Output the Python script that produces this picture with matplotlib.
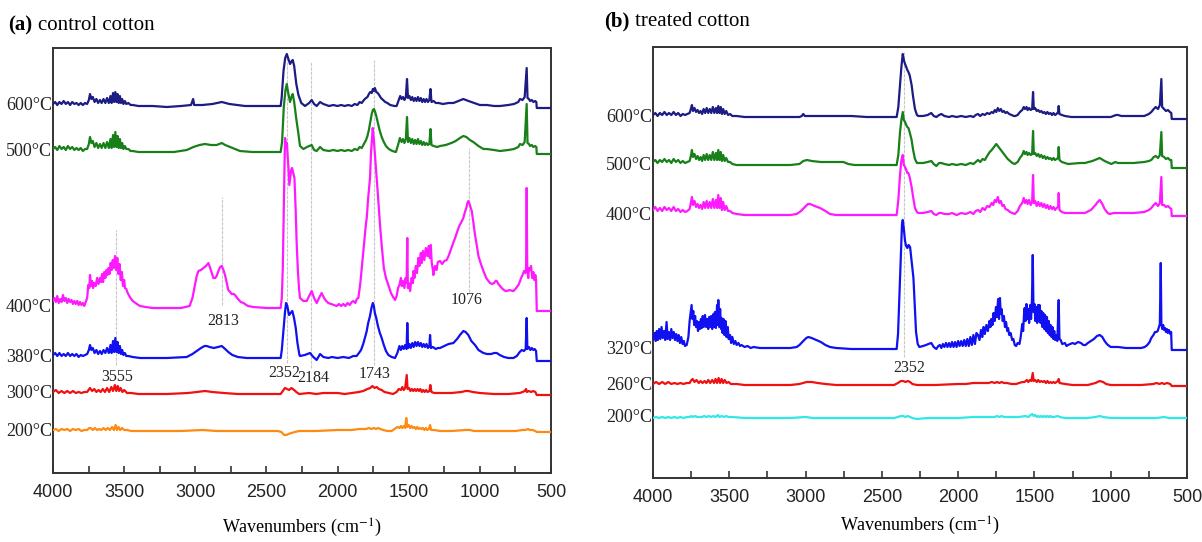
import numpy as np
import matplotlib
matplotlib.use("Agg")
import matplotlib.pyplot as plt
import matplotlib.transforms as mtransforms

plt.rcParams['mathtext.fontset'] = 'stix'
SERIF = ['Liberation Serif', 'DejaVu Serif']
SANS = ['Liberation Sans', 'DejaVu Sans']

# ---- spectra, (wavenumber cm-1, absorbance above own baseline, a.u.) ----
# (a) control cotton
a_600 = [(4000,2),(3985,4),(3970,1),(3955,4),(3940,2),(3925,5),(3910,2),(3895,4),(3880,1),(3865,4),(3850,2),(3835,3),(3820,1),(3805,3),(3790,1),(3775,3),(3760,2),(3748,6),(3740,12),(3730,7),(3720,9),(3708,4),(3695,7),(3683,3),(3670,6),(3658,3),(3645,7),(3632,3),(3620,8),(3608,3),(3596,10),(3588,3),(3578,13),(3570,4),(3562,14),(3554,4),(3546,12),(3538,3),(3530,10),(3522,3),(3514,7),(3505,2),(3495,5),(3485,2),(3470,3),(3455,1),(3440,1),(3400,0),(3300,0),(3200,-1),(3100,0),(3030,1),(3015,7),(3008,1),(2950,1),(2880,2),(2814,4),(2760,2),(2650,0),(2500,0),(2400,0),(2393,8),(2380,35),(2368,48),(2357,52),(2348,48),(2334,42),(2322,45),(2315,46),(2305,40),(2290,22),(2275,11),(2255,3),(2229,0),(2200,3),(2182,6),(2165,2),(2147,0),(2123,4),(2100,2),(2060,0),(2030,1),(2000,0),(1975,1),(1950,0),(1925,1),(1900,0),(1880,2),(1860,1),(1845,4),(1830,3),(1815,6),(1800,8),(1790,9),(1780,12),(1770,14),(1760,13),(1752,17),(1745,15),(1738,18),(1728,14),(1718,13),(1708,11),(1695,8),(1680,6),(1665,4),(1650,3),(1630,1),(1600,0),(1585,0),(1570,6),(1560,10),(1550,7),(1540,9),(1530,6),(1520,9),(1512,27),(1505,8),(1495,10),(1485,6),(1475,9),(1465,5),(1455,8),(1445,5),(1435,9),(1425,5),(1415,8),(1405,4),(1395,7),(1385,4),(1375,7),(1365,4),(1355,6),(1347,17),(1340,4),(1325,5),(1310,3),(1290,3),(1260,2),(1220,3),(1186,3),(1150,5),(1116,7),(1080,5),(1040,3),(1000,1),(950,1),(900,0),(858,0),(800,1),(760,2),(730,4),(718,7),(700,6),(685,9),(671,38),(665,8),(655,7),(647,5),(635,6),(624,4),(612,5),(603,4),(600,-2),(500,-2)]
a_500 = [(4000,3),(3985,5),(3970,2),(3955,6),(3940,3),(3925,5),(3910,2),(3895,6),(3880,3),(3865,5),(3850,2),(3835,4),(3820,2),(3805,4),(3790,1),(3775,3),(3760,3),(3748,8),(3740,15),(3730,9),(3720,11),(3708,5),(3695,9),(3683,4),(3670,8),(3658,4),(3645,9),(3632,4),(3620,10),(3608,4),(3596,13),(3588,4),(3578,17),(3570,5),(3562,20),(3554,5),(3546,16),(3538,4),(3530,13),(3522,4),(3514,9),(3505,3),(3495,6),(3485,3),(3470,3),(3455,1),(3440,1),(3400,0),(3300,0),(3150,0),(3060,2),(3013,5),(2970,7),(2932,8),(2890,7),(2850,7),(2814,9),(2790,7),(2756,5),(2720,3),(2686,1),(2600,0),(2400,0),(2390,10),(2378,45),(2366,62),(2357,68),(2348,60),(2334,50),(2322,56),(2315,58),(2305,50),(2290,33),(2275,18),(2264,6),(2240,3),(2215,5),(2182,7),(2165,2),(2147,1),(2123,5),(2100,2),(2060,1),(2030,2),(2000,1),(1975,2),(1950,1),(1925,2),(1900,1),(1880,3),(1860,2),(1845,5),(1830,4),(1815,8),(1800,12),(1790,16),(1780,22),(1770,30),(1760,38),(1752,42),(1744,43),(1736,40),(1728,36),(1718,30),(1705,22),(1690,15),(1675,10),(1660,6),(1640,3),(1615,1),(1590,0),(1575,7),(1562,14),(1550,10),(1540,13),(1530,9),(1520,13),(1512,35),(1505,10),(1495,14),(1485,9),(1475,13),(1465,8),(1455,12),(1445,8),(1435,13),(1425,8),(1415,11),(1405,7),(1395,10),(1385,7),(1375,9),(1365,7),(1355,8),(1347,23),(1340,7),(1325,6),(1300,5),(1280,6),(1240,7),(1200,9),(1170,11),(1140,14),(1116,16),(1095,15),(1070,12),(1046,10),(1010,6),(975,3),(952,3),(900,2),(858,1),(800,2),(760,3),(730,5),(718,8),(700,7),(685,10),(671,48),(665,9),(655,8),(647,6),(635,7),(624,5),(612,6),(603,5),(600,-2),(500,-2)]
a_400 = [(4000,7),(3990,10),(3980,6),(3970,12),(3960,5),(3950,9),(3940,6),(3930,13),(3920,7),(3910,10),(3900,5),(3890,9),(3880,6),(3870,8),(3860,4),(3850,7),(3840,4),(3830,7),(3820,3),(3810,6),(3800,3),(3790,5),(3780,2),(3770,6),(3760,10),(3752,23),(3745,20),(3740,33),(3732,22),(3725,27),(3718,20),(3710,25),(3700,22),(3690,30),(3680,24),(3670,30),(3662,26),(3655,34),(3648,26),(3640,36),(3632,30),(3625,38),(3618,33),(3610,40),(3602,34),(3595,45),(3588,38),(3580,48),(3572,40),(3564,52),(3556,38),(3548,50),(3540,34),(3532,44),(3524,28),(3516,36),(3508,22),(3500,28),(3494,20),(3485,19),(3475,15),(3460,11),(3440,7),(3420,5),(3400,3),(3388,2),(3350,1),(3300,0),(3200,0),(3100,0),(3040,2),(3020,10),(3002,23),(2990,32),(2978,37),(2960,38),(2943,40),(2925,42),(2908,45),(2895,40),(2880,33),(2873,30),(2860,30),(2850,32),(2835,38),(2825,41),(2814,42),(2802,38),(2791,33),(2780,26),(2768,18),(2755,16),(2745,14),(2730,14),(2721,13),(2700,9),(2680,6),(2662,5),(2630,2),(2592,1),(2500,0),(2400,0),(2392,10),(2385,40),(2378,100),(2372,150),(2369,170),(2362,162),(2356,165),(2350,150),(2345,140),(2339,123),(2333,130),(2326,138),(2320,140),(2313,136),(2303,130),(2295,100),(2287,63),(2278,35),(2270,18),(2264,10),(2240,7),(2217,7),(2200,12),(2182,17),(2165,10),(2147,5),(2130,10),(2112,15),(2095,10),(2080,7),(2065,5),(2045,4),(2025,3),(2006,2),(1990,4),(1975,2),(1960,4),(1945,2),(1930,5),(1915,3),(1900,6),(1889,7),(1875,5),(1865,9),(1854,10),(1840,25),(1830,40),(1819,57),(1810,70),(1800,85),(1795,90),(1785,110),(1772,130),(1765,155),(1758,170),(1753,180),(1745,168),(1737,153),(1728,135),(1720,120),(1710,100),(1700,80),(1690,63),(1675,40),(1660,30),(1643,23),(1625,15),(1610,11),(1596,8),(1585,12),(1575,20),(1565,23),(1555,30),(1548,22),(1540,27),(1530,20),(1522,30),(1515,25),(1510,70),(1506,20),(1500,25),(1490,17),(1480,30),(1470,25),(1467,37),(1460,30),(1450,42),(1442,35),(1432,50),(1425,42),(1415,55),(1408,45),(1400,57),(1390,48),(1380,60),(1370,52),(1360,62),(1352,50),(1345,63),(1338,45),(1330,38),(1327,33),(1315,42),(1305,38),(1295,46),(1280,47),(1265,44),(1250,47),(1233,48),(1220,52),(1205,58),(1190,64),(1174,70),(1160,76),(1145,82),(1130,86),(1116,90),(1105,96),(1095,100),(1088,105),(1081,107),(1072,104),(1064,100),(1057,97),(1045,85),(1035,74),(1022,63),(1010,52),(995,45),(975,37),(955,30),(940,27),(928,25),(915,24),(900,25),(890,27),(881,27),(870,24),(858,22),(840,19),(820,17),(811,17),(790,18),(770,17),(764,17),(750,19),(740,21),(729,23),(720,26),(710,30),(700,33),(690,37),(680,35),(675,40),(671,120),(667,40),(660,30),(655,40),(647,38),(640,42),(632,30),(624,36),(617,28),(610,33),(605,28),(600,-3),(500,-3)]
a_380 = [(4000,3),(3985,5),(3970,2),(3955,5),(3940,2),(3925,4),(3910,2),(3895,5),(3880,2),(3865,4),(3850,2),(3835,4),(3820,1),(3805,3),(3790,2),(3775,3),(3760,4),(3748,8),(3740,13),(3730,8),(3720,10),(3708,5),(3695,8),(3683,4),(3670,7),(3658,4),(3645,8),(3632,5),(3620,10),(3608,5),(3596,13),(3588,5),(3578,17),(3570,6),(3562,20),(3554,6),(3546,16),(3538,5),(3530,12),(3522,4),(3514,8),(3505,3),(3495,5),(3485,2),(3470,2),(3440,1),(3388,0),(3200,0),(3060,1),(3020,4),(2990,7),(2960,10),(2935,12),(2920,12),(2900,11),(2870,10),(2840,11),(2814,12),(2790,9),(2768,6),(2740,3),(2700,1),(2640,0),(2400,0),(2392,8),(2382,25),(2370,45),(2362,55),(2353,52),(2345,46),(2341,43),(2330,45),(2318,47),(2306,40),(2294,30),(2282,15),(2268,3),(2264,2),(2230,3),(2194,5),(2170,1),(2147,-2),(2123,4),(2100,1),(2065,0),(2040,1),(2000,0),(1960,1),(1920,0),(1890,2),(1866,2),(1850,5),(1835,8),(1820,14),(1808,20),(1795,27),(1785,35),(1772,42),(1762,50),(1752,55),(1745,52),(1738,45),(1728,40),(1718,33),(1705,26),(1690,20),(1675,13),(1660,7),(1643,3),(1620,1),(1596,0),(1580,5),(1565,12),(1555,8),(1545,12),(1535,9),(1525,13),(1515,9),(1510,35),(1504,10),(1495,14),(1485,10),(1475,15),(1465,11),(1455,16),(1445,12),(1435,16),(1425,12),(1415,15),(1405,11),(1395,14),(1385,11),(1375,14),(1365,10),(1355,12),(1350,23),(1344,10),(1330,11),(1310,9),(1295,10),(1280,10),(1250,12),(1220,14),(1186,15),(1160,19),(1140,23),(1116,27),(1100,26),(1081,23),(1060,17),(1034,13),(1010,8),(975,5),(950,4),(920,4),(900,5),(881,5),(860,3),(830,1),(800,0),(764,0),(740,2),(720,6),(705,8),(690,7),(678,9),(671,40),(666,9),(655,11),(645,8),(635,10),(624,8),(615,9),(605,7),(600,-3),(500,-3)]
a_300 = [(4000,2),(3980,4),(3960,1),(3940,3),(3920,1),(3900,3),(3880,1),(3860,3),(3840,1),(3820,2),(3800,1),(3780,2),(3760,2),(3745,5),(3740,6),(3725,3),(3710,5),(3695,2),(3680,4),(3665,2),(3650,5),(3635,2),(3620,6),(3605,2),(3590,7),(3578,3),(3565,9),(3555,3),(3545,8),(3535,3),(3525,6),(3512,2),(3500,4),(3480,1),(3450,1),(3400,0),(3200,0),(3050,1),(2990,2),(2932,3),(2880,2),(2800,1),(2700,0),(2400,0),(2385,3),(2370,6),(2355,5),(2340,4),(2325,6),(2305,4),(2290,2),(2270,0),(2200,1),(2150,0),(2100,1),(2000,1),(1950,0),(1900,1),(1850,2),(1820,3),(1790,5),(1770,6),(1755,8),(1740,6),(1725,7),(1710,5),(1690,4),(1670,2),(1640,1),(1610,0),(1585,2),(1570,5),(1555,4),(1545,7),(1535,4),(1525,6),(1514,19),(1508,5),(1498,6),(1488,3),(1478,5),(1468,3),(1458,5),(1448,3),(1438,5),(1428,3),(1418,5),(1408,2),(1398,4),(1388,2),(1378,4),(1368,2),(1355,3),(1348,9),(1340,2),(1320,1),(1280,1),(1200,1),(1130,2),(1100,3),(1080,3),(1050,2),(1000,1),(900,0),(800,0),(720,1),(700,2),(685,3),(675,5),(670,2),(655,3),(640,2),(625,3),(610,2),(600,-1),(500,-1)]
a_200 = [(4000,1),(3980,2),(3960,0),(3940,2),(3920,1),(3900,2),(3880,0),(3860,2),(3840,1),(3820,2),(3800,0),(3780,1),(3760,1),(3745,3),(3735,3),(3720,1),(3705,3),(3690,1),(3675,2),(3660,1),(3645,3),(3630,1),(3615,3),(3600,1),(3585,4),(3572,1),(3560,6),(3550,1),(3540,4),(3528,1),(3515,3),(3500,1),(3480,1),(3450,0),(3300,0),(3100,0),(2950,1),(2850,0),(2600,0),(2420,0),(2395,-1),(2375,-4),(2360,-4),(2345,-3),(2325,-2),(2300,-1),(2270,0),(2150,0),(2000,1),(1900,1),(1850,2),(1800,2),(1780,3),(1760,2),(1745,3),(1730,2),(1715,3),(1700,2),(1680,1),(1650,0),(1620,0),(1600,2),(1580,4),(1565,3),(1555,5),(1545,3),(1535,5),(1525,3),(1517,13),(1510,4),(1500,6),(1490,3),(1480,5),(1470,3),(1460,4),(1450,2),(1440,4),(1430,2),(1420,3),(1410,2),(1400,3),(1390,1),(1380,3),(1370,1),(1358,2),(1350,6),(1342,1),(1320,1),(1280,0),(1200,0),(1100,1),(1070,1),(1040,0),(900,0),(750,0),(700,1),(680,1),(660,2),(650,1),(630,1),(610,0),(600,-1),(500,-1)]

# (b) treated cotton
b_600 = [(4000,2),(3985,4),(3970,1),(3955,4),(3940,2),(3925,5),(3910,2),(3895,4),(3880,2),(3865,5),(3850,2),(3835,4),(3820,1),(3805,3),(3790,2),(3775,3),(3760,4),(3752,8),(3745,12),(3738,6),(3728,9),(3718,5),(3708,7),(3698,4),(3688,6),(3678,3),(3668,8),(3658,4),(3648,9),(3638,4),(3628,8),(3618,4),(3608,10),(3598,4),(3588,9),(3580,4),(3572,11),(3564,4),(3556,10),(3548,3),(3540,8),(3530,3),(3520,6),(3508,2),(3495,3),(3480,1),(3452,1),(3400,0),(3200,0),(3040,0),(3025,1),(3015,3),(3005,1),(2900,1),(2800,1),(2700,1),(2600,0),(2403,0),(2392,10),(2381,32),(2372,50),(2363,63),(2356,57),(2348,53),(2340,50),(2333,47),(2326,45),(2318,42),(2305,32),(2295,20),(2283,8),(2270,2),(2261,1),(2230,1),(2200,2),(2176,4),(2160,1),(2143,0),(2125,2),(2110,3),(2090,1),(2060,0),(2040,1),(2010,0),(1980,1),(1950,0),(1920,1),(1900,0),(1885,2),(1870,3),(1855,1),(1840,3),(1825,2),(1810,4),(1795,3),(1780,5),(1770,4),(1760,7),(1750,5),(1740,9),(1730,6),(1720,8),(1710,5),(1700,6),(1690,4),(1680,5),(1665,3),(1650,2),(1635,1),(1625,1),(1610,2),(1595,5),(1580,7),(1570,10),(1562,8),(1552,10),(1545,7),(1535,9),(1525,7),(1515,8),(1509,25),(1504,8),(1495,9),(1485,6),(1475,7),(1465,5),(1455,6),(1445,4),(1435,5),(1425,3),(1415,5),(1405,3),(1395,4),(1385,2),(1375,4),(1365,2),(1355,3),(1345,5),(1341,11),(1336,3),(1320,2),(1300,1),(1258,0),(1100,0),(1000,0),(965,2),(952,2),(930,1),(850,1),(780,1),(750,3),(734,5),(718,8),(705,10),(690,8),(678,12),(668,38),(663,10),(650,8),(638,6),(625,7),(612,5),(603,4),(600,-2),(500,-2)]
b_500 = [(4000,3),(3985,5),(3970,2),(3955,5),(3940,3),(3925,6),(3910,3),(3895,5),(3880,2),(3865,6),(3850,3),(3835,5),(3820,2),(3805,4),(3790,2),(3775,3),(3760,4),(3752,9),(3745,15),(3738,8),(3728,11),(3718,6),(3708,9),(3698,5),(3688,8),(3678,4),(3668,10),(3658,5),(3648,11),(3638,5),(3628,10),(3618,5),(3608,13),(3598,5),(3588,12),(3580,5),(3572,15),(3564,5),(3556,13),(3548,4),(3540,10),(3530,4),(3520,7),(3508,3),(3495,3),(3480,1),(3452,0),(3300,0),(3100,0),(3040,1),(3015,4),(2990,5),(2960,4),(2900,3),(2840,3),(2790,3),(2752,3),(2720,1),(2680,0),(2403,0),(2392,10),(2381,33),(2372,45),(2363,53),(2356,45),(2348,43),(2340,40),(2333,38),(2326,37),(2318,33),(2305,25),(2295,15),(2283,6),(2270,2),(2261,2),(2230,2),(2200,3),(2176,4),(2160,1),(2143,-1),(2125,2),(2110,2),(2090,1),(2060,0),(2040,1),(2010,0),(1980,1),(1950,0),(1920,2),(1900,1),(1885,3),(1870,5),(1855,3),(1840,6),(1825,5),(1810,9),(1793,13),(1780,15),(1770,17),(1760,19),(1750,21),(1740,19),(1730,17),(1720,15),(1710,13),(1700,11),(1690,9),(1675,6),(1660,4),(1645,2),(1629,1),(1610,3),(1595,7),(1580,10),(1570,14),(1562,11),(1552,13),(1545,10),(1535,12),(1525,10),(1515,11),(1509,34),(1504,11),(1495,12),(1485,9),(1475,11),(1465,8),(1455,10),(1445,7),(1435,9),(1425,6),(1415,8),(1405,6),(1395,7),(1385,5),(1375,7),(1365,5),(1355,6),(1345,7),(1341,18),(1336,5),(1320,3),(1300,2),(1280,1),(1200,2),(1170,2),(1120,4),(1072,7),(1040,4),(1010,2),(996,1),(970,3),(952,2),(900,2),(850,2),(780,3),(750,4),(734,5),(718,8),(705,9),(690,7),(678,10),(668,33),(663,9),(650,8),(638,6),(625,7),(612,5),(603,5),(600,-3),(500,-3)]
b_400 = [(4000,5),(3985,8),(3970,4),(3955,7),(3940,4),(3925,8),(3910,5),(3895,7),(3880,4),(3865,8),(3850,4),(3835,6),(3820,3),(3805,5),(3790,3),(3775,4),(3760,6),(3752,12),(3745,18),(3738,10),(3728,14),(3718,8),(3708,11),(3698,7),(3688,10),(3678,6),(3668,13),(3658,7),(3648,14),(3638,7),(3628,13),(3618,7),(3608,16),(3598,7),(3588,15),(3580,7),(3572,20),(3564,7),(3556,17),(3548,5),(3540,13),(3530,5),(3520,9),(3508,4),(3495,4),(3480,2),(3452,1),(3400,0),(3100,0),(3058,1),(3030,4),(3004,8),(2985,11),(2971,11),(2940,9),(2905,7),(2870,4),(2840,1),(2800,0),(2403,0),(2392,15),(2381,40),(2372,55),(2363,60),(2356,50),(2348,48),(2340,45),(2333,42),(2326,42),(2318,38),(2305,28),(2295,18),(2283,7),(2270,3),(2261,2),(2230,2),(2200,3),(2176,4),(2160,1),(2143,0),(2125,2),(2110,2),(2090,1),(2060,1),(2040,2),(2010,0),(1980,2),(1950,1),(1920,3),(1900,1),(1885,4),(1870,5),(1855,3),(1840,7),(1825,5),(1810,9),(1795,8),(1780,12),(1770,10),(1760,15),(1750,13),(1740,18),(1730,12),(1720,14),(1710,9),(1700,10),(1690,6),(1675,5),(1660,3),(1645,2),(1629,1),(1610,4),(1595,9),(1580,12),(1570,17),(1562,12),(1552,15),(1545,11),(1535,15),(1525,10),(1515,13),(1509,40),(1504,12),(1495,14),(1485,9),(1475,13),(1465,9),(1455,12),(1445,8),(1435,11),(1425,7),(1415,10),(1405,6),(1395,9),(1385,6),(1375,8),(1365,5),(1355,7),(1345,8),(1341,22),(1336,5),(1320,3),(1300,2),(1280,2),(1200,2),(1170,2),(1130,5),(1100,10),(1085,13),(1072,15),(1055,11),(1040,6),(1020,2),(1007,1),(980,2),(950,2),(900,2),(850,2),(780,3),(750,5),(734,7),(718,10),(705,12),(690,9),(678,12),(668,38),(663,10),(650,10),(638,8),(625,9),(612,7),(603,6),(600,-1),(500,-1)]
b_320 = [(4000,10),(3990,16),(3982,8),(3975,18),(3968,9),(3960,20),(3952,10),(3944,22),(3936,11),(3928,18),(3920,9),(3911,27),(3904,10),(3896,17),(3888,9),(3880,20),(3872,11),(3864,17),(3856,9),(3848,15),(3840,8),(3832,14),(3824,6),(3815,12),(3806,5),(3798,8),(3790,3),(3779,4),(3768,12),(3760,28),(3752,38),(3747,44),(3742,30),(3736,38),(3730,24),(3724,33),(3718,22),(3712,28),(3705,18),(3698,27),(3692,20),(3686,30),(3680,21),(3674,33),(3668,22),(3659,34),(3652,22),(3645,30),(3638,20),(3632,32),(3626,22),(3619,33),(3612,20),(3604,35),(3598,22),(3594,37),(3588,21),(3580,44),(3576,24),(3572,49),(3566,22),(3560,40),(3554,20),(3550,31),(3544,16),(3538,30),(3532,14),(3525,28),(3518,12),(3510,22),(3504,10),(3495,14),(3488,6),(3480,12),(3470,5),(3460,8),(3452,4),(3440,6),(3430,3),(3420,4),(3400,2),(3380,3),(3360,1),(3340,2),(3300,1),(3200,1),(3100,1),(3058,2),(3040,4),(3015,8),(2995,11),(2982,12),(2960,11),(2930,9),(2900,7),(2870,4),(2840,2),(2800,1),(2700,0),(2403,0),(2394,15),(2385,54),(2375,100),(2368,125),(2363,129),(2356,120),(2348,108),(2341,103),(2333,101),(2325,104),(2315,102),(2305,88),(2293,71),(2283,40),(2276,17),(2265,5),(2254,2),(2230,3),(2210,4),(2195,5),(2176,6),(2160,2),(2143,0),(2130,3),(2120,4),(2110,1),(2100,5),(2090,2),(2080,6),(2070,2),(2060,6),(2050,2),(2040,7),(2030,2),(2020,7),(2010,2),(2000,8),(1990,3),(1980,8),(1970,3),(1960,9),(1950,3),(1940,10),(1930,3),(1920,12),(1910,4),(1900,14),(1890,5),(1880,16),(1870,14),(1860,9),(1850,19),(1842,12),(1833,22),(1825,15),(1815,24),(1805,18),(1795,28),(1788,22),(1782,30),(1775,24),(1768,36),(1760,28),(1752,42),(1746,32),(1738,50),(1732,30),(1726,51),(1721,35),(1715,40),(1708,28),(1700,33),(1693,22),(1686,27),(1678,18),(1673,21),(1665,14),(1656,16),(1646,9),(1638,10),(1629,4),(1620,3),(1610,6),(1598,5),(1590,12),(1580,25),(1574,18),(1568,35),(1564,41),(1558,28),(1552,45),(1546,30),(1540,40),(1535,26),(1528,44),(1522,30),(1516,50),(1511,94),(1506,37),(1500,45),(1494,28),(1488,42),(1482,26),(1476,44),(1470,28),(1466,44),(1460,26),(1454,38),(1448,22),(1442,36),(1436,20),(1430,34),(1424,18),(1418,32),(1412,16),(1406,28),(1400,14),(1394,24),(1388,12),(1382,22),(1376,10),(1370,18),(1364,9),(1358,14),(1350,8),(1341,49),(1336,10),(1328,9),(1318,5),(1300,6),(1290,3),(1280,4),(1265,5),(1250,6),(1235,5),(1214,7),(1195,6),(1180,4),(1165,4),(1150,6),(1130,8),(1110,10),(1090,13),(1072,14),(1055,12),(1040,8),(1025,5),(1018,4),(1000,2),(980,2),(952,2),(900,1),(850,1),(800,1),(777,2),(760,4),(745,7),(734,11),(720,14),(710,17),(701,17),(692,18),(684,22),(678,25),(672,86),(668,25),(662,20),(656,24),(650,19),(644,21),(638,17),(632,20),(626,16),(618,19),(610,15),(604,17),(600,-1),(500,-1)]
b_260 = [(4000,1),(3980,3),(3960,1),(3940,3),(3920,1),(3900,3),(3880,1),(3860,2),(3840,1),(3820,2),(3800,1),(3780,2),(3760,2),(3748,5),(3740,6),(3728,3),(3715,5),(3700,2),(3688,4),(3675,2),(3662,4),(3650,2),(3638,5),(3625,2),(3612,5),(3600,2),(3590,6),(3580,2),(3570,7),(3560,2),(3550,6),(3540,2),(3530,5),(3518,2),(3505,3),(3490,1),(3452,1),(3400,0),(3100,0),(3040,1),(2993,3),(2960,3),(2920,2),(2870,1),(2800,0),(2420,0),(2395,2),(2375,4),(2360,4),(2345,3),(2330,4),(2315,3),(2300,1),(2270,0),(2150,0),(2000,1),(1950,1),(1900,2),(1850,2),(1800,2),(1780,3),(1760,2),(1745,3),(1730,2),(1715,3),(1700,2),(1680,2),(1650,1),(1620,1),(1600,2),(1580,3),(1565,3),(1550,5),(1540,3),(1530,5),(1520,4),(1511,12),(1505,4),(1495,5),(1485,3),(1475,5),(1465,3),(1455,4),(1445,3),(1435,4),(1425,2),(1415,4),(1405,2),(1395,3),(1385,2),(1375,3),(1365,2),(1355,3),(1345,4),(1341,6),(1335,2),(1300,1),(1250,0),(1150,0),(1100,2),(1072,4),(1050,3),(1030,1),(1000,0),(900,0),(800,0),(720,1),(700,2),(680,1),(665,2),(650,1),(630,2),(610,1),(600,-1),(500,-1)]
b_200 = [(4000,0),(3980,1),(3960,0),(3940,1),(3920,0),(3900,1),(3880,0),(3860,1),(3840,0),(3820,1),(3800,0),(3780,1),(3760,1),(3748,2),(3738,1),(3725,2),(3710,1),(3695,1),(3680,1),(3665,2),(3650,1),(3635,2),(3620,1),(3605,2),(3590,1),(3575,3),(3565,1),(3550,2),(3535,1),(3520,2),(3505,1),(3480,1),(3400,0),(3100,0),(3000,1),(2950,0),(2420,0),(2395,1),(2375,2),(2360,2),(2345,1),(2330,2),(2315,1),(2300,0),(2270,-1),(2200,0),(2000,0),(1900,1),(1800,1),(1760,1),(1745,2),(1730,1),(1715,2),(1700,1),(1600,1),(1560,2),(1540,1),(1525,3),(1514,4),(1505,2),(1495,3),(1485,1),(1475,2),(1465,1),(1455,2),(1445,1),(1435,2),(1425,1),(1415,2),(1405,1),(1395,2),(1385,1),(1375,1),(1345,2),(1335,1),(1300,0),(1150,0),(1100,1),(1072,2),(1050,1),(1000,0),(900,0),(700,0),(650,1),(620,0),(600,0),(500,0)]

a_labels = ['600\u00b0C', '500\u00b0C', '400\u00b0C', '380\u00b0C', '300\u00b0C', '200\u00b0C']
b_labels = ['600\u00b0C', '500\u00b0C', '400\u00b0C', '320\u00b0C', '260\u00b0C', '200\u00b0C']
a_peaks = [3555, 2813, 2352, 2184, 1743, 1076]
b_peaks = [2352]

NAVY, GREEN, MAGENTA, BLUE, RED = '#1c1c84', '#188018', '#ff19ff', '#1010f0', '#f01010'
# (series, label, stacking offset, colour)
panel_a = [(a_600, a_labels[0], 367, NAVY), (a_500, a_labels[1], 321, GREEN),
           (a_400, a_labels[2], 165, MAGENTA), (a_380, a_labels[3], 115, BLUE),
           (a_300, a_labels[4], 79, RED), (a_200, a_labels[5], 42, '#ff8a10')]
panel_b = [(b_600, b_labels[0], 361, NAVY), (b_500, b_labels[1], 313, GREEN),
           (b_400, b_labels[2], 263, MAGENTA), (b_320, b_labels[3], 129, BLUE),
           (b_260, b_labels[4], 93, RED), (b_200, b_labels[5], 60, '#30e8e8')]

fig = plt.figure(figsize=(12.02, 5.42), dpi=100)
ax_a = fig.add_axes([53/1202, 1-473/542, 498/1202, 425/542])
ax_b = fig.add_axes([653/1202, 1-478/542, 534/1202, 431/542])


def style(ax, top, pad):
    ax.set_xlim(4000, 500)
    ax.set_ylim(0, top)
    ax.set_xticks(np.arange(500, 4001, 500))
    ax.set_xticks(np.arange(750, 4000, 500), minor=True)
    ax.tick_params(axis='x', which='both', direction='in', length=5, width=1.2,
                   color='#333333', pad=8, labelsize=13, labelcolor='#222222')
    ax.set_yticks([])
    for s in ax.spines.values():
        s.set_color('#333333')
        s.set_linewidth(1.4)
    for lab in ax.get_xticklabels():
        lab.set_family(SANS)
    ax.set_xlabel('Wavenumbers (cm$^{-1}$)', family=SERIF, fontsize=13, labelpad=pad)


def draw(ax, panel):
    tr = mtransforms.blended_transform_factory(ax.transAxes, ax.transData)
    for data, label, off, col in panel:
        wn, ab = np.array(data, dtype=float).T
        ax.plot(wn, ab + off, color=col, lw=1.6, zorder=3)
        ax.text(-0.002, off, label, transform=tr, ha='right', va='center',
                family=SERIF, fontsize=13, color='#222222')


style(ax_a, 425, 11)
style(ax_b, 431, 6)
draw(ax_a, panel_a)
draw(ax_b, panel_b)

# guide lines and peak labels
guide = dict(color='#c8c8c8', lw=0.8, ls=(0, (3, 1)), zorder=1)
ax_a.vlines(a_peaks[0], 108, 243, **guide)
ax_a.vlines(a_peaks[1], 168, 276, **guide)
ax_a.vlines(a_peaks[2], 110, 420, **guide)
ax_a.vlines(a_peaks[3], 105, 411, **guide)
ax_a.vlines(a_peaks[4], 108, 413, **guide)
ax_a.vlines(a_peaks[5], 181, 325, **guide)
ax_b.vlines(b_peaks[0], 121, 426, **guide)

pk = dict(family=SERIF, fontsize=11.5, color='#222222', ha='center', va='center')
ax_a.text(3552, 96, str(a_peaks[0]), **pk)
ax_a.text(2807, 152, str(a_peaks[1]), **pk)
ax_a.text(2375, 100, str(a_peaks[2]), **pk)
ax_a.text(2168, 95, str(a_peaks[3]), **pk)
ax_a.text(1737, 99, str(a_peaks[4]), **pk)
ax_a.text(1093, 173, str(a_peaks[5]), **pk)
ax_b.text(2322, 110, str(b_peaks[0]), **pk)

fig.text(8/1202, 1-25/542, '(a)', family=SERIF, fontsize=15, weight='bold', va='center', ha='left')
fig.text(38/1202, 1-25/542, 'control cotton', family=SERIF, fontsize=15, va='center', ha='left')
fig.text(604/1202, 1-21/542, '(b)', family=SERIF, fontsize=15, weight='bold', va='center', ha='left')
fig.text(635/1202, 1-21/542, 'treated cotton', family=SERIF, fontsize=15, va='center', ha='left')

fig.savefig('out.png', dpi=100)
